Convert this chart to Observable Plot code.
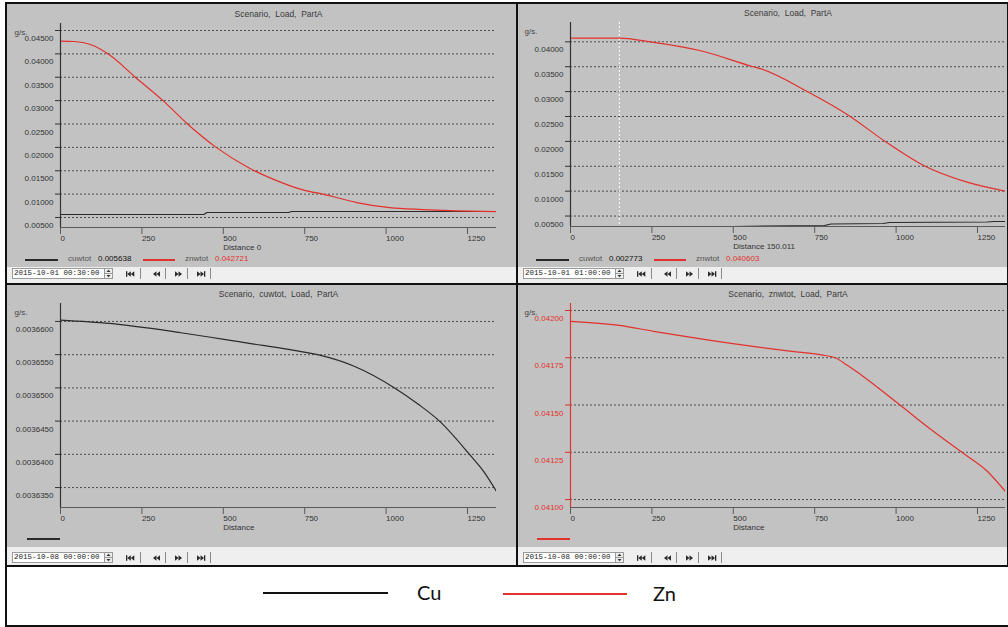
<!DOCTYPE html>
<html><head><meta charset="utf-8">
<script src="https://cdn.jsdelivr.net/npm/d3@7"></script>
<script src="https://cdn.jsdelivr.net/npm/@observablehq/plot@0.6"></script>
<style>
body{margin:0;background:#fff;}
#root{position:relative;width:1008px;height:627px;overflow:hidden;background:#fff;font-family:Arial,"Liberation Sans",sans-serif;}
.blk{position:absolute;background:#111;}
.gray{position:absolute;background:#c2c2c2;}
.tool{position:absolute;background:#efefef;}
.abs{position:absolute;white-space:nowrap;}
.date{position:absolute;background:#fff;border:1px solid #9a9a9a;font-family:"Liberation Mono","DejaVu Sans Mono",monospace;font-size:7.5px;line-height:9px;color:#222;padding:0 1px;width:89px;overflow:hidden;white-space:nowrap;}
.rd{position:absolute;font-size:8px;line-height:10px;white-space:nowrap;}
</style></head>
<body><div id="root"></div>
<script>
// ---------- data ----------
const xTicks = [0, 250, 500, 750, 1000, 1250];
const xMaxLeft = 1339;
const xMaxRight = 1336;

// top-left: Scenario, Load, PartA at 2015-10-01 00:30:00
const distZnTL = [0, 40, 100, 150, 230, 315, 390, 478, 582, 660, 750, 806, 910, 1011, 1113, 1216, 1339];
const znTL = [0.04272, 0.04265, 0.0418, 0.0398, 0.0350, 0.0300, 0.0250, 0.0200, 0.0155, 0.0130, 0.0108, 0.0100, 0.0082, 0.0071, 0.0067, 0.00643, 0.00625];
const distCuTL = [0, 440, 450, 700, 710, 1339];
const cuTL = [0.00564, 0.00564, 0.00607, 0.00607, 0.00628, 0.00628];
const yTicksTL = [0.045, 0.04, 0.035, 0.03, 0.025, 0.02, 0.015, 0.01, 0.005];
const yDomTL = [0.00286, 0.0465];

// top-right: Scenario, Load, PartA at 2015-10-01 01:00:00
const distZnTR = [0, 150, 245, 400, 561, 583, 727, 859, 966, 1083, 1218, 1336];
const znTR = [0.04074, 0.04073, 0.0400, 0.0382, 0.0350, 0.0346, 0.0300, 0.0250, 0.0200, 0.0152, 0.0118, 0.0100];
const distCuTR = [0, 150, 500, 780, 800, 960, 980, 1280, 1300, 1336];
const cuTR = [0.00277, 0.00277, 0.0029, 0.0031, 0.0034, 0.0035, 0.0037, 0.0038, 0.0039, 0.0039];
const yTicksTR = [0.04, 0.035, 0.03, 0.025, 0.02, 0.015, 0.01, 0.005];
const yDomTR = [0.0029, 0.04388];
const cursorTR = [150.011];

// bottom-left: Scenario, cuwtot, Load, PartA at 2015-10-08
const distBL = [0, 150, 370, 580, 700, 790, 900, 1026, 1100, 1164, 1256, 1300, 1339];
const cuBL = [0.0036602, 0.0036597, 0.0036583, 0.0036567, 0.0036558, 0.003655, 0.0036533, 0.00365, 0.0036475, 0.003645, 0.00364, 0.0036374, 0.0036344];
const yTicksBL = [0.00366, 0.003655, 0.00365, 0.003645, 0.00364, 0.003635];
const yDomBL = [0.003632, 0.0036627];

// bottom-right: Scenario, znwtot, Load, PartA at 2015-10-08
const distBR = [0, 150, 255, 400, 583, 700, 770, 813, 850, 900, 1012, 1100, 1202, 1280, 1337];
const znBR = [0.041942, 0.041921, 0.04189, 0.04185, 0.041805, 0.04178, 0.041765, 0.04175, 0.04171, 0.04165, 0.0415, 0.04138, 0.04125, 0.04115, 0.04104];
const yTicksBR = [0.042, 0.04175, 0.0415, 0.04125, 0.041];
const yDomBR = [0.040958, 0.042037];

const titles = ["Scenario,  Load,  PartA", "Scenario,  Load,  PartA", "Scenario,  cuwtot,  Load,  PartA", "Scenario,  znwtot,  Load,  PartA"];
const xLabels = ["Distance 0", "Distance 150.011", "Distance", "Distance"];
const dates = ["2015-10-01 00:30:00", "2015-10-01 01:00:00", "2015-10-08 00:00:00", "2015-10-08 00:00:00"];
const readCu = ["0.005638", "0.002773"];
const readZn = ["0.042721", "0.040603"];
const seriesNames = ["Cu", "Zn"];

const RED = "#e3312c", CU = "#2a2a2a";

// ---------- layout ----------
const root = document.getElementById("root");
function box(cls, x, y, w, h, extra) {
  const d = document.createElement("div");
  d.className = cls;
  Object.assign(d.style, {left: x + "px", top: y + "px", width: w + "px", height: h + "px"}, extra || {});
  root.appendChild(d);
  return d;
}
const panels = [
  {x: 7, y: 4, w: 509, h: 263, toolY: 267, toolH: 16, dateY: 268},
  {x: 518, y: 4, w: 489, h: 263, toolY: 267, toolH: 16, dateY: 268},
  {x: 7, y: 285, w: 509, h: 262, toolY: 547, toolH: 18, dateY: 552},
  {x: 518, y: 285, w: 489, h: 262, toolY: 547, toolH: 18, dateY: 552}
];
panels.forEach(p => {
  box("gray", p.x, p.y, p.w, p.h);
  box("tool", p.x, p.toolY, p.w, p.toolH);
});
box("blk", 5, 2, 1003, 2);
box("blk", 5, 2, 2, 625);
box("blk", 5, 625, 1003, 2);
box("blk", 1007, 2, 1, 565);
box("blk", 516, 2, 2, 565);
box("blk", 5, 283, 1003, 2);
box("blk", 5, 565, 1003, 2);

function makePlot(c) {
  const fmt = d => d.toFixed(c.dec);
  const marks = [
    Plot.gridY(c.yTicks, {stroke: "#4d4d4d", strokeOpacity: 1, strokeDasharray: "2,2"}),
    Plot.ruleY([c.yDom[0]], {stroke: "#5a5a5a"}),
    Plot.axisX(xTicks, {tickSize: 7, tickPadding: 1, textAnchor: "start", fontSize: 8, fill: "#333", stroke: "#5a5a5a", label: null, tickFormat: d => String(d)}),
    Plot.axisY(c.yTicks, {tickSize: 5, fill: "none", stroke: c.axisColor, label: null}),
    Plot.axisY(c.yTicks, {tickSize: 0, tickPadding: 7, dy: 8, fontSize: 8, fill: c.labelColor, tickFormat: fmt, label: null}),
    Plot.text([c.title], {frameAnchor: "top", lineAnchor: "middle", dy: -9, fontSize: 8.5, fill: "#3a3a3a"}),
    Plot.text(["g/s."], {frameAnchor: "top-left", textAnchor: "start", lineAnchor: "middle", dx: -46, dy: 9, fontSize: 8, fill: "#444"}),
    Plot.text([c.xLabel], {x: [xTicks[2]], frameAnchor: "bottom", textAnchor: "start", lineAnchor: "middle", dy: 20, fontSize: 8, fill: "#333"})
  ];
  if (c.cursor) marks.push(Plot.ruleX(c.cursor, {stroke: "#ffffff", strokeDasharray: "2,2"}));
  c.series.forEach(s => marks.push(Plot.line(s.y, {x: s.x, y: s.y, stroke: s.color, strokeWidth: 1.2, curve: s.curve, clip: true})));
  marks.push(Plot.ruleX([0], {stroke: c.axisColor, strokeWidth: 1.2}));
  const svg = Plot.plot({
    width: c.w, height: c.h,
    marginLeft: c.ml, marginRight: c.mr, marginTop: c.mt, marginBottom: c.mb,
    x: {domain: [0, c.xMax]},
    y: {domain: c.yDom},
    style: {background: "transparent", overflow: "visible", fontFamily: "Arial, 'Liberation Sans', sans-serif"},
    marks
  });
  svg.style.position = "absolute";
  svg.style.left = c.x + "px";
  svg.style.top = c.y + "px";
  root.appendChild(svg);
}

makePlot({x: 7, y: 4, w: 509, h: 263, ml: 53, mr: 20, mt: 19, mb: 40, xMax: xMaxLeft, yDom: yDomTL, yTicks: yTicksTL, dec: 5,
  axisColor: "#333", labelColor: "#333", title: titles[0], xLabel: xLabels[0],
  series: [{x: distCuTL, y: cuTL, color: CU, curve: "linear"}, {x: distZnTL, y: znTL, color: RED, curve: "monotone-x"}]});
makePlot({x: 518, y: 4, w: 489, h: 263, ml: 52, mr: 2, mt: 18, mb: 41, xMax: xMaxRight, yDom: yDomTR, yTicks: yTicksTR, dec: 5,
  axisColor: "#333", labelColor: "#333", title: titles[1], xLabel: xLabels[1], cursor: cursorTR,
  series: [{x: distCuTR, y: cuTR, color: CU, curve: "linear"}, {x: distZnTR, y: znTR, color: RED, curve: "monotone-x"}]});
makePlot({x: 7, y: 285, w: 509, h: 262, ml: 53, mr: 20, mt: 18, mb: 40, xMax: xMaxLeft, yDom: yDomBL, yTicks: yTicksBL, dec: 7,
  axisColor: "#333", labelColor: "#333", title: titles[2], xLabel: xLabels[2],
  series: [{x: distBL, y: cuBL, color: CU, curve: "monotone-x"}]});
makePlot({x: 518, y: 285, w: 489, h: 262, ml: 52, mr: 2, mt: 18, mb: 40, xMax: xMaxRight, yDom: yDomBR, yTicks: yTicksBR, dec: 5,
  axisColor: RED, labelColor: RED, title: titles[3], xLabel: xLabels[3],
  series: [{x: distBR, y: znBR, color: RED, curve: "monotone-x"}]});

function line(x, y, w, color) { box("abs", x, y, w, 1.5, {background: color}); }
function txt(x, y, s, color, cls) {
  const d = document.createElement("div");
  d.className = cls || "rd";
  d.textContent = s;
  Object.assign(d.style, {left: x + "px", top: y + "px", color});
  root.appendChild(d);
  return d;
}
const readX = [7, 518];
[0, 1].forEach(i => {
  const ox = readX[i];
  const ry = 259;
  line(ox + 18, ry, 33, CU);
  txt(ox + 61, ry - 5, "cuwtot", "#555");
  txt(ox + 91, ry - 5, readCu[i], "#111");
  line(ox + 136, ry, 32, RED);
  txt(ox + 178, ry - 5, "znwtot", "#555");
  txt(ox + 208, ry - 5, readZn[i], RED);
});
line(27, 538, 33, CU);
line(537, 538, 33, RED);

function btnSvg(kind) {
  const L = (x) => `<polygon points="${x},4 ${x + 3.5},1.2 ${x + 3.5},6.8"/>`;
  const R = (x) => `<polygon points="${x + 3.5},4 ${x},1.2 ${x},6.8"/>`;
  let inner = "";
  if (kind === 0) inner = `<rect x="1" y="1.2" width="1.3" height="5.6"/>` + L(2.3) + L(5.8);
  if (kind === 1) inner = L(3) + L(6.5);
  if (kind === 2) inner = R(3) + R(6.5);
  if (kind === 3) inner = R(2) + R(5.5) + `<rect x="9" y="1.2" width="1.3" height="5.6"/>`;
  return `<svg width="12" height="8" style="display:block" fill="#2a2a2a">${inner}</svg>`;
}
panels.forEach((p, i) => {
  const by = p.dateY;
  const d = txt(p.x + 5, by, dates[i], "#222", "date");
  d.style.height = "9px";
  const sp = box("abs", p.x + 97, by, 9, 11, {});
  sp.innerHTML = `<svg width="9" height="11" style="display:block"><rect x="0.5" y="0.5" width="8" height="10" fill="#eee" stroke="#999"/><line x1="1" x2="8" y1="5.5" y2="5.5" stroke="#999"/><polygon points="4.5,1.8 6.5,4 2.5,4" fill="#333"/><polygon points="4.5,9.2 6.5,7 2.5,7" fill="#333"/></svg>`;
  const bx = [114, 139, 161, 184];
  bx.forEach((x, k) => {
    const b = box("abs", p.x + x, by, 20, 11, {borderRight: "1px solid #8a8a8a", boxSizing: "border-box", display: "flex", alignItems: "center", justifyContent: "center"});
    b.innerHTML = btnSvg(k);
  });
});

box("abs", 263, 592, 125, 1.5, {background: "#111"});
box("abs", 503, 593, 124, 1.5, {background: RED});
const lg1 = txt(417, 579, seriesNames[0], "#111", "abs");
const lg2 = txt(653, 580, seriesNames[1], "#111", "abs");
[lg1, lg2].forEach(d => Object.assign(d.style, {fontFamily: "Lato, 'Open Sans', sans-serif", fontSize: "20px", lineHeight: "26px"}));
</script>
</body></html>
